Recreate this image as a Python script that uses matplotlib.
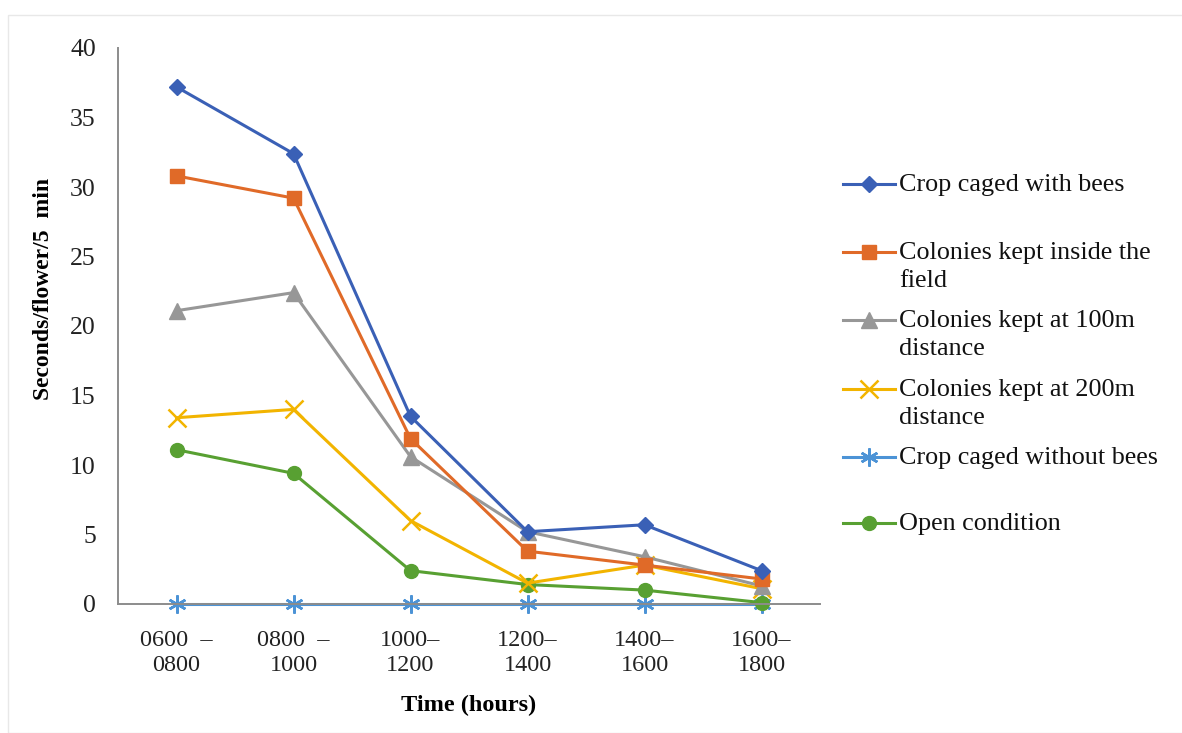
import matplotlib

matplotlib.use('Agg')
import matplotlib.pyplot as plt
from matplotlib.lines import Line2D
from matplotlib.patches import Rectangle

plt.rcParams['font.family'] = ['Liberation Serif', 'DejaVu Serif']

# data
periods = ['0600  –\n0800', '0800  –\n1000', '1000–\n1200', '1200–\n1400', '1400–\n1600', '1600–\n1800']
caged_bees = [37.2, 32.4, 13.5, 5.2, 5.7, 2.4]
inside_field = [30.8, 29.2, 11.9, 3.8, 2.8, 1.8]
at_100m = [21.1, 22.4, 10.6, 5.2, 3.4, 1.3]
at_200m = [13.4, 14.0, 6.0, 1.5, 2.8, 1.1]
caged_no_bees = [0, 0, 0, 0, 0, 0]
open_cond = [11.1, 9.4, 2.4, 1.4, 1.0, 0.1]

labels = ['Crop caged with bees', 'Colonies kept inside the\nfield',
          'Colonies kept at 100m\ndistance', 'Colonies kept at 200m\ndistance',
          'Crop caged without bees', 'Open condition']
colors = ['#3A60B6', '#E06A28', '#979797', '#F2B400', '#4C93D6', '#58A032']
markers = ['D', 's', '^', 'x', (6, 2, 0), 'o']
msizes = [8, 10, 11, 13, 13, 10]
series = [caged_bees, inside_field, at_100m, at_200m, caged_no_bees, open_cond]

fig = plt.figure(figsize=(11.82, 7.33), dpi=100)
ax = fig.add_axes([118 / 1182, 1 - 604 / 733, (820 - 118) / 1182, (604 - 48) / 733])

x = list(range(len(periods)))
# draw order: bottom first so upper lines sit on top
for i in [4, 5, 3, 2, 1, 0]:
    mew = 1.8 if markers[i] in ('x', (6, 2, 0)) else 1
    ax.plot(x, series[i], color=colors[i], marker=markers[i], markersize=msizes[i],
            linewidth=2.2, markeredgewidth=mew, clip_on=False)

ax.set_xlim(-0.5, 5.5)
ax.set_ylim(0, 40)
ax.set_yticks(range(0, 41, 5))
ax.set_xticks(x)
ax.set_xticklabels(periods, fontsize=17.5, linespacing=1.2)
ax.tick_params(axis='y', length=0, pad=16, labelsize=18.5, labelcolor='#222222')
ax.tick_params(axis='x', length=0, pad=19, labelcolor='#222222')
for s in ['top', 'right']:
    ax.spines[s].set_visible(False)
for s in ['left', 'bottom']:
    ax.spines[s].set_color('#8c8c8c')
    ax.spines[s].set_linewidth(1.4)

ax.set_xlabel('Time (hours)', fontsize=17.5, fontweight='bold', labelpad=14)
fig.text(44 / 1182, 1 - 289 / 733, 'Seconds/flower/5  min', rotation=90, fontsize=17,
         fontweight='bold', ha='center', va='center')

# legend, Excel style: marker sits on the first line of each label
leg_y = [184, 252, 320, 389, 457, 523]
for i in range(len(labels)):
    yf = 1 - leg_y[i] / 733
    mew = 1.8 if markers[i] in ('x', (6, 2, 0)) else 1
    fig.add_artist(Line2D([843 / 1182, 895 / 1182], [yf, yf], color=colors[i], linewidth=2.2,
                          transform=fig.transFigure))
    fig.add_artist(Line2D([869 / 1182], [yf], color=colors[i], marker=markers[i],
                          markersize=msizes[i], markeredgewidth=mew, transform=fig.transFigure))
    fig.text(899 / 1182, yf + 10 / 733, labels[i], fontsize=18.8, va='top', ha='left',
             linespacing=1.33, color='#111111')

fig.add_artist(Rectangle((8 / 1182, 0.0), 1.0, 1 - 15 / 733, transform=fig.transFigure,
                         fill=False, edgecolor='#e8e8e8', linewidth=1))

fig.savefig('out.png', dpi=100)
